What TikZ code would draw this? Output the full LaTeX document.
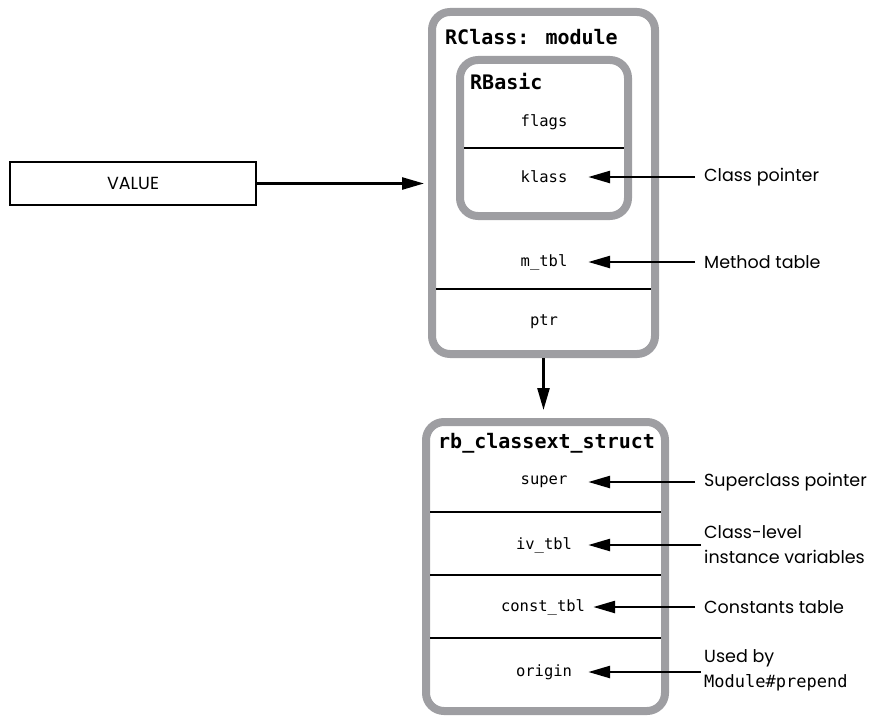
\documentclass[tikz,border=0pt]{standalone}
\usepackage{fontspec}
\setmainfont{Poppins}
\newfontfamily\monofont{DejaVu Sans Mono}
\usetikzlibrary{arrows.meta}
\definecolor{bgray}{RGB}{158,158,162}
\begin{document}
\begin{tikzpicture}[x=1pt,y=-1pt,
  box/.style={draw=bgray, line width=8pt, rounded corners=18pt, outer sep=0pt, inner sep=0pt},
  field/.style={font=\monofont\fontsize{15.5}{18}\selectfont, minimum width=88pt, inner sep=2pt},
  ttl/.style={font=\monofont\bfseries\fontsize{20}{24}\selectfont, anchor=west, inner sep=0pt},
  lab/.style={font=\fontsize{17.5}{25}\selectfont, anchor=west, align=left, inner sep=0pt},
  ptr/.style={line width=2.6pt, -{Triangle[length=22pt,width=12pt]}},
  sepline/.style={line width=2pt}]
\useasboundingbox (0,0) rectangle (883,717);
% boxes
\node[box, minimum width=223pt, minimum height=342pt] (rclass) at (543.5,183) {};
\node[box, minimum width=168pt, minimum height=156pt] (rbasic) at (544,138) {};
\node[box, minimum width=239pt, minimum height=289pt] (rb) at (545.5,566.5) {};
% titles
\node[ttl] (trclass) at (445,37) {RClass: module};
\node[ttl] (trbasic) at (470,82) {RBasic};
\node[ttl] (trb) at (438,443) {rb\_classext\_struct};
% fields
\node[field] (flags) at (544,122) {flags};
\node[field] (klass) at (544,177) {klass};
\node[field] (mtbl) at (544,262) {m\_tbl};
\node[field] (ptr) at (544,322) {ptr};
\node[field] (super) at (544,482) {super};
\node[field] (ivtbl) at (544,545) {iv\_tbl};
\node[field, minimum width=100pt] (consttbl) at (543,607) {const\_tbl};
\node[field] (origin) at (544,672) {origin};
% separators
\coordinate (s1) at (0,148);
\coordinate (s2) at (0,289);
\coordinate (s3) at (0,512);
\coordinate (s4) at (0,575);
\coordinate (s5) at (0,638);
\draw[sepline] ([xshift=4pt]rbasic.west |- s1) -- ([xshift=-4pt]rbasic.east |- s1);
\draw[sepline] ([xshift=4pt]rclass.west |- s2) -- ([xshift=-4pt]rclass.east |- s2);
\draw[sepline] ([xshift=4pt]rb.west |- s3) -- ([xshift=-4pt]rb.east |- s3);
\draw[sepline] ([xshift=4pt]rb.west |- s4) -- ([xshift=-4pt]rb.east |- s4);
\draw[sepline] ([xshift=4pt]rb.west |- s5) -- ([xshift=-4pt]rb.east |- s5);
% VALUE
\node[draw, line width=2pt, minimum width=246pt, minimum height=43pt, inner sep=0pt,
      font=\fontsize{17.5}{20}\selectfont] (value) at (133,183.5) {VALUE};
% labels
\node[lab] (cp) at (704,177) {Class pointer};
\node[lab] (mt) at (704,262) {Method table};
\node[lab] (sp) at (704,482) {Superclass pointer};
\node[lab] (cl) at (704,545) {Class-level\\instance variables};
\node[lab] (ct) at (704,607) {Constants table};
\node[lab] (ub) at (704,670) {Used by\\{\monofont\fontsize{17}{25}\selectfont Module\#prepend}};
% connectors
\draw[ptr, shorten >=8pt] (value.east) -- (value.east -| rclass.west);
\draw[ptr, shorten <=4pt, shorten >=12pt] (rclass.south) -- (rclass.south |- rb.north);
\draw[ptr, shorten <=9pt] (klass.east -| cp.west) -- (klass.east);
\draw[ptr, shorten <=9pt] (mtbl.east -| mt.west) -- (mtbl.east);
\draw[ptr, shorten <=9pt] (super.east -| sp.west) -- (super.east);
\draw[ptr, shorten <=3pt] (ivtbl.east -| cl.west) -- (ivtbl.east);
\draw[ptr, shorten <=9pt] (consttbl.east -| ct.west) -- (consttbl.east);
\draw[ptr, shorten <=3pt] (origin.east -| ub.west) -- (origin.east);
\end{tikzpicture}
\end{document}
